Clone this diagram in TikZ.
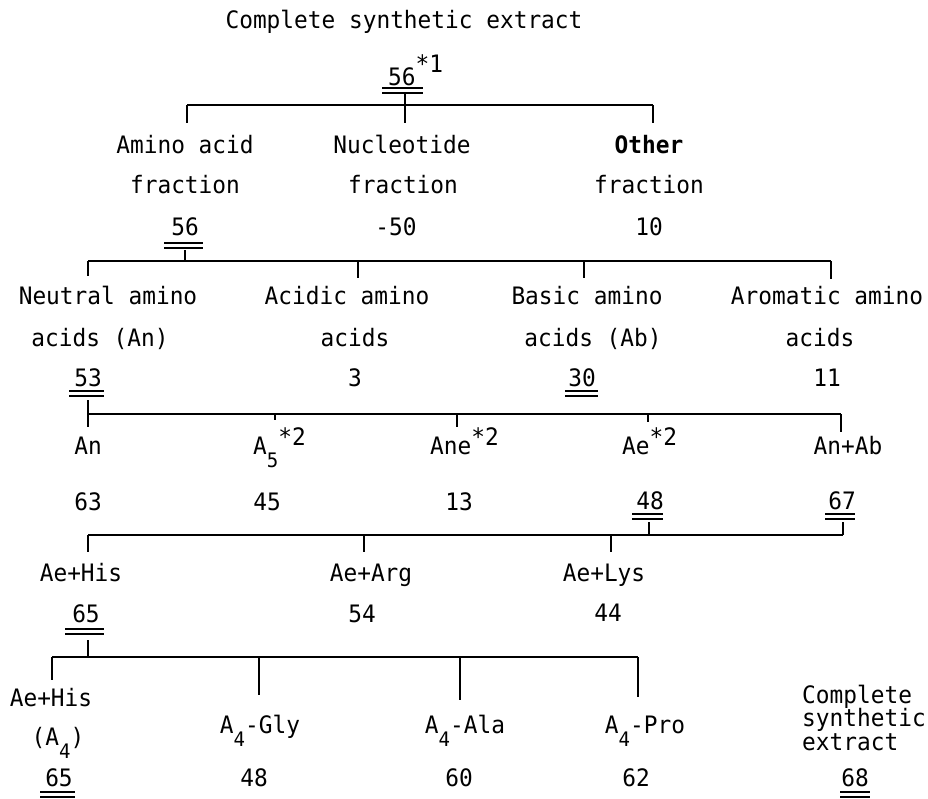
\documentclass[tikz,border=0pt]{standalone}
\usepackage{fontspec}
\setmainfont{DejaVu Sans Mono}[FakeStretch=0.95]
\newcommand\sbs[1]{\raisebox{-13pt}{\fontsize{20}{20}\selectfont #1}}
\newcommand\sps[2]{\raisebox{#1}{#2}}
\begin{document}
\begin{tikzpicture}[x=1pt,y=-1pt,
  lbl/.style={inner sep=0pt, text height=17.5pt, text depth=0pt, font=\fontsize{24}{24}\selectfont},
  bar/.style={line width=2.2pt},
  tk/.style={line width=1.5pt},
  ul/.style={line width=1.3pt}]
\useasboundingbox (0,0) rectangle (928,798);
\newcommand\dul[3]{\draw[ul] (#1,#3) -- (#2,#3); \draw[ul] (#1,#3+5) -- (#2,#3+5);}
% ---------- level 0
\node[lbl] (top) at (404,20) {Complete synthetic extract};
\node[lbl,anchor=west] (n0) at (388,77) {56\sps{13pt}{*1}};
\dul{382}{423}{88}
% ---------- level 1
\node[lbl] (a1) at (185,145) {Amino acid};
\node[lbl] (a2) at (185,185) {fraction};
\node[lbl] (a3) at (185,227) {56};
\dul{164}{203}{243}
\node[lbl] (b1) at (402,145) {Nucleotide};
\node[lbl] (b2) at (403,185) {fraction};
\node[lbl] (b3) at (396,227) {-50};
\node[lbl,font=\fontsize{24}{24}\selectfont\bfseries] (c1) at (649,145) {Other};
\node[lbl] (c2) at (649,185) {fraction};
\node[lbl] (c3) at (649,227) {10};
% ---------- level 2
\node[lbl] (d1) at (108,296) {Neutral amino};
\node[lbl] (d2) at (100,338) {acids (An)};
\node[lbl] (d3) at (88,378) {53};
\dul{69}{104}{391}
\node[lbl] (e1) at (347,296) {Acidic amino};
\node[lbl] (e2) at (355,338) {acids};
\node[lbl] (e3) at (355,378) {3};
\node[lbl] (f1) at (587,296) {Basic amino};
\node[lbl] (f2) at (593,338) {acids (Ab)};
\node[lbl] (f3) at (582,378) {30};
\dul{565}{598}{391}
\node[lbl] (g1) at (827,296) {Aromatic amino};
\node[lbl] (g2) at (820,338) {acids};
\node[lbl] (g3) at (827,378) {11};
% ---------- level 3
\node[lbl] (h1) at (88,446) {An};
\node[lbl] (h2) at (88,502) {63};
\node[lbl,anchor=west] (i1) at (253,446) {A\sbs{5}\sps{9pt}{*2}};
\node[lbl] (i2) at (267,502) {45};
\node[lbl,anchor=west] (j1) at (430,446) {Ane\sps{9pt}{*2}};
\node[lbl] (j2) at (459,502) {13};
\node[lbl,anchor=west] (k1) at (622,446) {Ae\sps{9pt}{*2}};
\node[lbl] (k2) at (650,501) {48};
\dul{632}{663}{514}
\node[lbl] (l1) at (848,446) {An+Ab};
\node[lbl] (l2) at (842,501) {67};
\dul{825}{855}{514}
% ---------- level 4
\node[lbl] (m1) at (81,573) {Ae+His};
\node[lbl] (m2) at (86,614) {65};
\dul{65}{104}{629}
\node[lbl] (o1) at (371,573) {Ae+Arg};
\node[lbl] (o2) at (362,614) {54};
\node[lbl] (p1) at (604,573) {Ae+Lys};
\node[lbl] (p2) at (608,613) {44};
% ---------- level 5
\node[lbl] (q1) at (51,698) {Ae+His};
\node[lbl] (q2) at (58,737) {(A\sbs{4})};
\node[lbl] (q3) at (59,778) {65};
\dul{40}{75}{792}
\node[lbl] (r1) at (260,725) {A\sbs{4}-Gly};
\node[lbl] (r2) at (254,778) {48};
\node[lbl] (s1) at (465,725) {A\sbs{4}-Ala};
\node[lbl] (s2) at (459,778) {60};
\node[lbl] (u1) at (645,725) {A\sbs{4}-Pro};
\node[lbl] (u2) at (636,778) {62};
\node[lbl,anchor=west] (v1) at (802,695) {Complete};
\node[lbl,anchor=west] (v2) at (802,718) {synthetic};
\node[lbl,anchor=west] (v3) at (802,742) {extract};
\node[lbl] (v4) at (855,778) {68};
\dul{840}{870}{792}
% ---------- connectors: bar 1
\coordinate (B1s) at (405,94);
\coordinate (B1L) at (187,105); \coordinate (B1M) at (405,105); \coordinate (B1R) at (653,105);
\coordinate (B1a) at (187,123); \coordinate (B1b) at (405,123); \coordinate (B1c) at (653,123);
\draw[bar] (B1L) -- (B1R);
\draw[tk] (B1s) -- (B1M);
\draw[tk] (B1L) -- (B1a); \draw[tk] (B1M) -- (B1b); \draw[tk] (B1R) -- (B1c);
% bar 2
\coordinate (B2s) at (185,250); \coordinate (B2M) at (185,261);
\coordinate (B2L) at (88,261); \coordinate (B2R) at (831,261);
\coordinate (B2x) at (358,261); \coordinate (B2y) at (584,261);
\coordinate (B2a) at (88,276); \coordinate (B2b) at (358,278); \coordinate (B2c) at (584,278); \coordinate (B2d) at (831,279);
\draw[bar] (B2L) -- (B2R);
\draw[tk] (B2s) -- (B2M);
\draw[tk] (B2L) -- (B2a); \draw[tk] (B2x) -- (B2b); \draw[tk] (B2y) -- (B2c); \draw[tk] (B2R) -- (B2d);
% bar 3
\coordinate (B3s) at (88,400);
\coordinate (B3L) at (88,414); \coordinate (B3R) at (841,414);
\coordinate (B3x) at (275,414); \coordinate (B3y) at (457,414); \coordinate (B3z) at (648,414);
\coordinate (B3a) at (88,427); \coordinate (B3b) at (275,420); \coordinate (B3c) at (457,427); \coordinate (B3d) at (648,422); \coordinate (B3e) at (841,432);
\draw[bar] (B3L) -- (B3R);
\draw[tk] (B3s) -- (B3L);
\draw[tk] (B3L) -- (B3a); \draw[tk] (B3x) -- (B3b); \draw[tk] (B3y) -- (B3c); \draw[tk] (B3z) -- (B3d); \draw[tk] (B3R) -- (B3e);
% bar 4
\coordinate (B4s) at (649,522); \coordinate (B4M) at (649,535);
\coordinate (B4t) at (843,522);
\coordinate (B4L) at (88,535); \coordinate (B4R) at (843,535);
\coordinate (B4x) at (364,535); \coordinate (B4y) at (611,535);
\coordinate (B4a) at (88,552); \coordinate (B4b) at (364,552); \coordinate (B4c) at (611,552);
\draw[bar] (B4L) -- (B4R);
\draw[tk] (B4t) -- (B4R);
\draw[tk] (B4s) -- (B4M);
\draw[tk] (B4L) -- (B4a); \draw[tk] (B4x) -- (B4b); \draw[tk] (B4y) -- (B4c);
% bar 5
\coordinate (B5s) at (88,640); \coordinate (B5M) at (88,657);
\coordinate (B5L) at (52,657); \coordinate (B5R) at (638,657);
\coordinate (B5x) at (259,657); \coordinate (B5y) at (460,657);
\coordinate (B5a) at (52,680); \coordinate (B5b) at (259,695); \coordinate (B5c) at (460,700); \coordinate (B5d) at (638,697);
\draw[bar] (B5L) -- (B5R);
\draw[tk] (B5s) -- (B5M);
\draw[tk] (B5L) -- (B5a); \draw[tk] (B5x) -- (B5b); \draw[tk] (B5y) -- (B5c); \draw[tk] (B5R) -- (B5d);
\end{tikzpicture}
\end{document}
